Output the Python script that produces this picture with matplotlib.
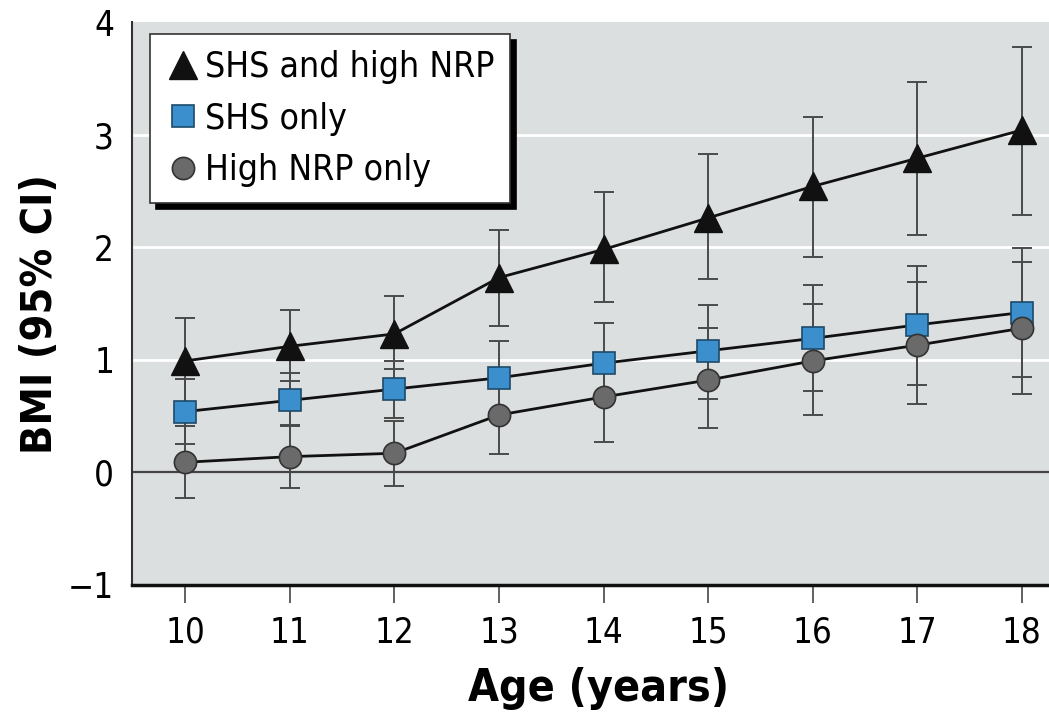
import matplotlib
matplotlib.use("Agg")
import matplotlib.pyplot as plt
import numpy as np

# ---- data ----
ages = [10, 11, 12, 13, 14, 15, 16, 17, 18]

shs_nrp = [0.99, 1.12, 1.23, 1.73, 1.98, 2.26, 2.54, 2.79, 3.04]
shs_nrp_lo = [0.61, 0.81, 0.92, 1.30, 1.51, 1.72, 1.91, 2.11, 2.29]
shs_nrp_hi = [1.37, 1.44, 1.57, 2.15, 2.49, 2.83, 3.16, 3.47, 3.78]

shs_only = [0.54, 0.64, 0.74, 0.84, 0.97, 1.08, 1.19, 1.31, 1.42]
shs_only_lo = [0.25, 0.41, 0.48, 0.51, 0.61, 0.65, 0.72, 0.78, 0.85]
shs_only_hi = [0.83, 0.88, 0.985, 1.17, 1.33, 1.49, 1.66, 1.83, 1.99]

nrp_only = [0.09, 0.14, 0.17, 0.51, 0.67, 0.82, 0.99, 1.13, 1.28]
nrp_only_lo = [-0.23, -0.14, -0.12, 0.16, 0.27, 0.39, 0.51, 0.61, 0.70]
nrp_only_hi = [0.41, 0.42, 0.46, 0.86, 1.05, 1.28, 1.495, 1.69, 1.87]

labels = ["SHS and high NRP", "SHS only", "High NRP only"]
y_ticks = [-1, 0, 1, 2, 3, 4]
y_ticklabels = ["\u22121", "0", "1", "2", "3", "4"]

plt.rcParams["font.family"] = ["DejaVu Sans"]
plt.rcParams["font.stretch"] = "condensed"

fig = plt.figure(figsize=(10.49, 7.21), dpi=100)
ax = fig.add_axes([132/1049, 1-585/721, (1049-132)/1049, (585-22)/721])
ax.set_facecolor("#dcdfe0")

ax.set_xlim(9.49, 18.26)
ax.set_ylim(-1, 4)

for g in [1, 2, 3]:
    ax.axhline(g, color="white", lw=2, zorder=1)
ax.axhline(0, color="#444444", lw=1.6, zorder=1.5)

series = [
    (shs_nrp, shs_nrp_lo, shs_nrp_hi, dict(marker="^", ms=20, mfc="#111111", mec="#111111")),
    (shs_only, shs_only_lo, shs_only_hi, dict(marker="s", ms=15.5, mfc="#3a8fcc", mec="#1c4a6a", mew=1.2)),
    (nrp_only, nrp_only_lo, nrp_only_hi, dict(marker="o", ms=16, mfc="#6a6a6a", mec="#333333", mew=1.2)),
]

handles = []
for vals, lo, hi, mk in series:
    v = np.array(vals)
    yerr = [v - np.array(lo), np.array(hi) - v]
    ax.errorbar(ages, v, yerr=yerr, fmt="none", ecolor="#4a4a4a", elinewidth=1.4,
                capsize=7, capthick=1.4, zorder=2)
for vals, lo, hi, mk in series:
    ax.plot(ages, vals, color="#111111", lw=2.0, zorder=3, marker=None)
for vals, lo, hi, mk in series:
    h, = ax.plot(ages, vals, linestyle="none", zorder=4, **mk)
    handles.append(h)

ax.set_xticks(ages)
ax.set_xticklabels([str(a) for a in ages])
ax.set_yticks(y_ticks)
ax.set_yticklabels(y_ticklabels)
ax.tick_params(axis="x", length=13, width=1.3, color="#555555", pad=9, labelsize=25)
ax.tick_params(axis="y", length=0, pad=13, labelsize=25)

for s in ["top", "right"]:
    ax.spines[s].set_visible(False)
ax.spines["left"].set_color("#333333")
ax.spines["left"].set_linewidth(1.5)
ax.spines["bottom"].set_color("#111111")
ax.spines["bottom"].set_linewidth(2.5)

ax.set_xlabel("Age (years)", fontsize=32, fontweight="bold")
ax.set_ylabel("BMI (95% CI)", fontsize=31, fontweight="bold")
ax.xaxis.set_label_coords((598.5-132)/917, (585-667)/563)
ax.yaxis.set_label_coords((61-132)/917, (585-313.5)/563)

leg = ax.legend(handles, labels, loc="upper left", bbox_to_anchor=(18/917, (585-34)/563),
                borderaxespad=0, fontsize=25.5, frameon=True, fancybox=False,
                handlelength=0.95, handletextpad=0.14, labelspacing=0.5,
                borderpad=0.45, markerscale=1.0,
                shadow={"ox": 4, "oy": -4, "facecolor": "black", "edgecolor": "black", "alpha": 1})
leg.get_frame().set_edgecolor("#333333")
leg.get_frame().set_linewidth(1.2)
leg.get_frame().set_facecolor("white")
leg.get_frame().set_alpha(1)

fig.savefig("out.png", dpi=100)
